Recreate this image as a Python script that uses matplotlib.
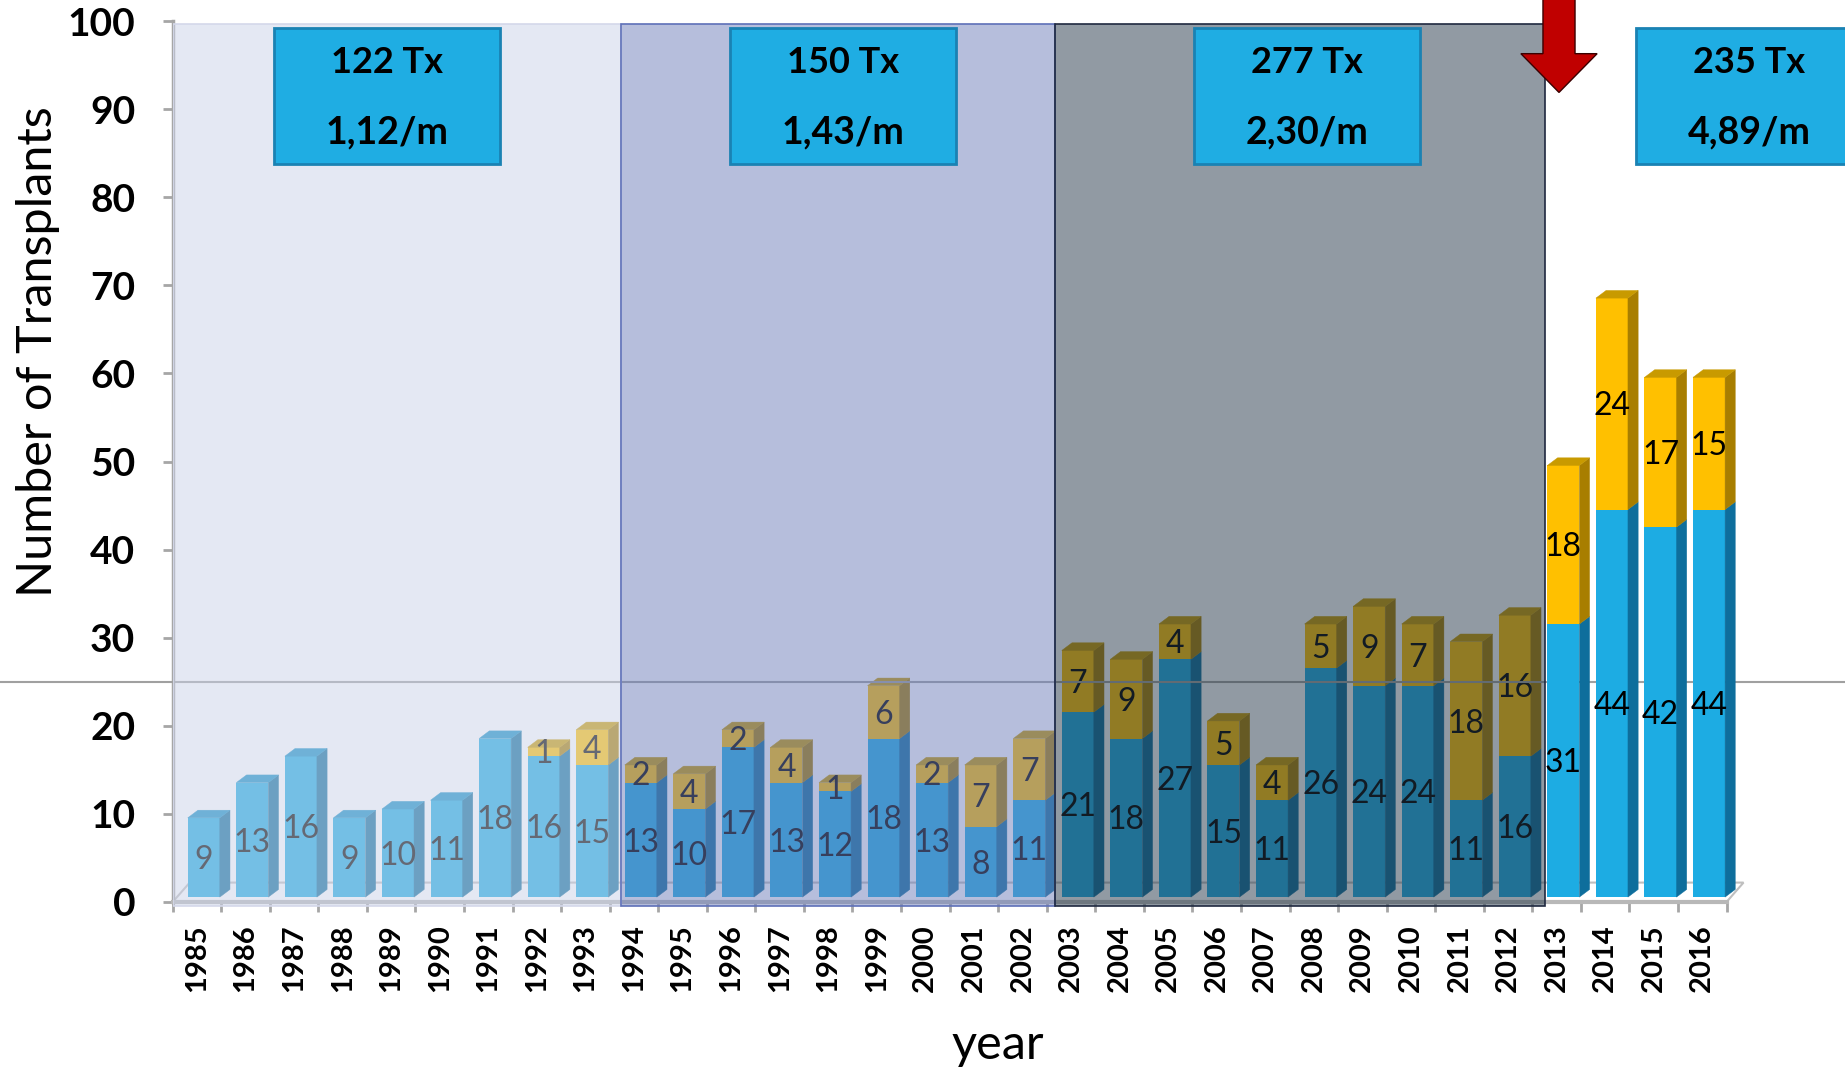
import matplotlib
matplotlib.use("Agg")
import matplotlib.pyplot as plt
import matplotlib.transforms as mtransforms
from matplotlib.patches import Polygon, Rectangle, FancyArrow
from matplotlib.lines import Line2D
import numpy as np

plt.rcParams['font.family'] = ['Lato', 'DejaVu Sans']

# data
years = ["1985", "1986", "1987", "1988", "1989", "1990", "1991", "1992",
         "1993", "1994", "1995", "1996", "1997", "1998", "1999", "2000",
         "2001", "2002", "2003", "2004", "2005", "2006", "2007", "2008",
         "2009", "2010", "2011", "2012", "2013", "2014", "2015", "2016"]
base_tx = [9, 13, 16, 9, 10, 11, 18, 16, 15, 13, 10, 17, 13, 12, 18, 13,
           8, 11, 21, 18, 27, 15, 11, 26, 24, 24, 11, 16, 31, 44, 42, 44]
extra_tx = [0, 0, 0, 0, 0, 0, 0, 1, 4, 2, 4, 2, 4, 1, 6, 2,
            7, 7, 7, 9, 4, 5, 4, 5, 9, 7, 18, 16, 18, 24, 17, 15]
era_tx = ["122 Tx", "150 Tx", "277 Tx", "235 Tx"]
era_rate = ["1,12/m", "1,43/m", "2,30/m", "4,89/m"]
y_ticks = [0, 10, 20, 30, 40, 50, 60, 70, 80, 90, 100]

# layout / style
era_edges = [-0.5, 8.73, 17.67, 27.77]
era_fill = ["#CBD2E8", "#6E7FBA", "#253748"]
era_line = ["#D4D8EA", "#5E70B8", "#1F2940"]
box_left = [1.59, 10.98, 20.54, 29.64]
BOX_W = 4.65
BAR_W = 0.66
BAR_SHIFT = 0.14
DX, DY = 0.21, 0.87
BASE = 0.55
LABEL_OFF = -0.3
BLUE, BLUE_SIDE, BLUE_TOP = "#1DACE3", "#0E6E9C", "#1490C6"
GOLD, GOLD_SIDE, GOLD_TOP = "#FFC000", "#A87E00", "#C89A00"


def era_of(pos):
    for k in range(3, 0, -1):
        if pos > era_edges[k]:
            return k
    return 0


fig = plt.figure(figsize=(18.45, 10.72), dpi=100)
ax = fig.add_axes([0.0936, 0.1504, 0.9064, 0.8324])

x = np.arange(len(years))

# floor of the 3d plot
ax.add_patch(Polygon([(-0.5, 0), (31.5, 0), (31.85, 2.2), (-0.15, 2.2)],
                     closed=True, facecolor="white", edgecolor="#BFBFBF",
                     lw=1.5, zorder=1))


def draw_segment(xc, y0, h, front, side, top, z, with_top):
    ax.bar(xc, h, width=BAR_W, bottom=y0, color=front, linewidth=0, zorder=z)
    xr = xc + BAR_W / 2
    xl = xc - BAR_W / 2
    ax.add_patch(Polygon([(xr, y0), (xr + DX, y0 + DY), (xr + DX, y0 + h + DY), (xr, y0 + h)],
                         closed=True, facecolor=side, edgecolor=side, lw=0.3, zorder=z))
    if with_top:
        ax.add_patch(Polygon([(xl, y0 + h), (xl + DX, y0 + h + DY), (xr + DX, y0 + h + DY), (xr, y0 + h)],
                             closed=True, facecolor=top, edgecolor=top, lw=0.3, zorder=z))


for i in x:
    era = era_of(i + BAR_SHIFT)
    z = 2 if era < 3 else 4
    xc = i + BAR_SHIFT
    b, t = base_tx[i], extra_tx[i]
    draw_segment(xc, BASE, b, BLUE, BLUE_SIDE, BLUE_TOP, z, t == 0)
    ax.text(xc, BASE + b / 2 + LABEL_OFF, str(b), ha="center", va="center",
            fontsize=23, color="black", zorder=z + 0.5)
    if t > 0:
        draw_segment(xc, BASE + b, t, GOLD, GOLD_SIDE, GOLD_TOP, z, True)
        ax.text(xc, BASE + b + t / 2 + LABEL_OFF, str(t), ha="center",
                va="center", fontsize=23, color="black", zorder=z + 0.5)

# reference line across the whole figure
trans = mtransforms.blended_transform_factory(fig.transFigure, ax.transData)
ax.add_line(Line2D([0, 1], [25, 25], transform=trans, color="#A0A0A0",
                   lw=1.5, zorder=3, clip_on=False))

# era overlays
for k in range(3):
    x0, x1 = era_edges[k], era_edges[k + 1]
    ax.add_patch(Rectangle((x0, -0.45), x1 - x0, 100.15, facecolor=era_fill[k],
                           alpha=0.5, edgecolor="none", zorder=5))
    ax.add_patch(Rectangle((x0, -0.45), x1 - x0, 100.15, fill=False,
                           edgecolor=era_line[k], lw=1.2, zorder=5.1))

# summary boxes
for k in range(4):
    ax.add_patch(Rectangle((box_left[k], 83.8), BOX_W, 15.4, facecolor="#1FADE3",
                           edgecolor="#1A82B3", lw=2, zorder=6))
    cx = box_left[k] + BOX_W / 2
    ax.text(cx, 95.3, era_tx[k], ha="center", va="center", fontsize=26,
            fontweight="bold", color="black", zorder=7)
    ax.text(cx, 87.3, era_rate[k], ha="center", va="center", fontsize=27,
            fontweight="bold", color="black", zorder=7)

# red arrow
ax.add_patch(FancyArrow(28.05, 102.6, 0, -10.7, width=0.66, head_width=1.57,
                        head_length=4.4, length_includes_head=True,
                        facecolor="#C00000", edgecolor="#3A0000", lw=1,
                        clip_on=False, zorder=8))

ax.set_xlim(-0.5, 33.94)
ax.set_ylim(-1, 100.3)

for s in ["top", "right"]:
    ax.spines[s].set_visible(False)
ax.spines["left"].set_bounds(0, 100)
ax.spines["left"].set_color("#A6A6A6")
ax.spines["left"].set_linewidth(2.5)
ax.spines["bottom"].set_position(("data", 0))
ax.spines["bottom"].set_bounds(-0.5, 31.5)
ax.spines["bottom"].set_color("#B8B8B8")
ax.spines["bottom"].set_linewidth(3)

ax.set_yticks(y_ticks)
ax.set_yticklabels([str(v) for v in y_ticks], fontweight="bold", fontsize=28)
ax.tick_params(axis="y", length=7, width=2, color="#A6A6A6", pad=20)

ax.set_xticks(x)
ax.set_xticklabels(years, rotation=90, fontweight="bold", fontsize=21)
ax.set_xticks(np.arange(-0.5, 32, 1), minor=True)
ax.tick_params(axis="x", which="major", length=0, pad=16)
ax.tick_params(axis="x", which="minor", length=7, width=2, color="#A6A6A6")

fig.text(38 / 1845, 1 - 352 / 1072, "Number of Transplants", rotation=90,
         ha="center", va="center", fontsize=35)
fig.text(998 / 1845, 1 - 1045 / 1072, "year", ha="center", va="center",
         fontsize=35)

fig.savefig("out.png", dpi=100)
